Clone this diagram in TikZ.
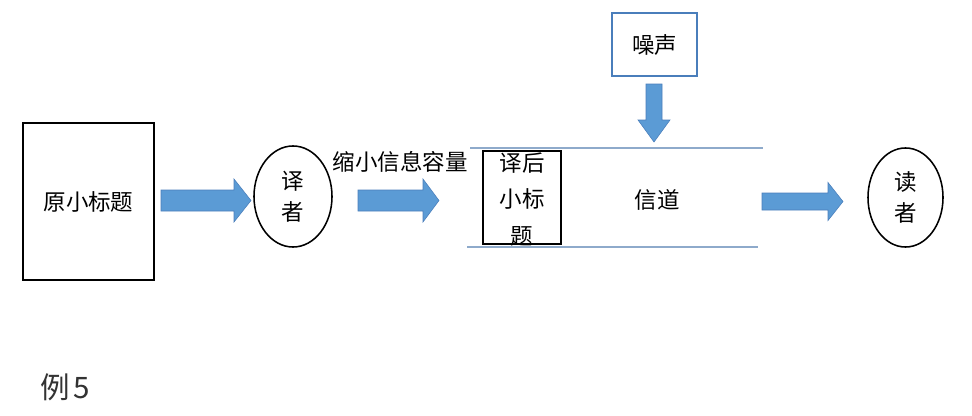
\documentclass[tikz,border=0pt]{standalone}
\usepackage{fontspec}
\setmainfont{Noto Sans CJK SC}
\usetikzlibrary{shapes.geometric}
\definecolor{arrowblue}{HTML}{5B9BD5}
\definecolor{arrowedge}{HTML}{4A7EBB}
\definecolor{channelline}{HTML}{8EAACB}

\begin{document}
\begin{tikzpicture}[x=0.025cm,y=-0.025cm,font=\fontsize{16}{22}\selectfont,
  person/.style={draw,line width=1.1pt,ellipse,inner sep=0pt,align=center}]
  \useasboundingbox (0,0) rectangle (972,415);
  % source and translator
  \node[draw,line width=1.7pt,minimum width=3.275cm,minimum height=3.925cm] (orig) at (88.5,201.5) {原小标题};
  \node[person,minimum width=1.95cm,minimum height=2.525cm] (translator) at (293,196.5) {译\\者};
  \node (shrink) at (400,162) {缩小信息容量};
  % channel
  \draw[channelline,line width=0.8pt] (470,148) -- (763,148);
  \draw[channelline,line width=0.8pt] (467,247) -- (758,247);
  \node[draw,line width=1pt,minimum width=1.95cm,minimum height=2.325cm] (sub) at (522,197.5) {};
  \node[align=center,font=\fontsize{16}{26}\selectfont] (subtext) at ([yshift=-0.05cm]sub) {译后\\小标\\题};
  \node (channel) at (657,200) {信道};
  \node[draw=arrowedge,line width=1pt,minimum width=2.125cm,minimum height=1.575cm] (noise) at (654.5,44.5) {噪声};
  % reader
  \node[person,minimum width=1.875cm,minimum height=2.475cm] (reader) at (905.5,197.5) {读\\者};
  % block arrows
  \foreach \xs/\xh/\xe/\yc/\sh/\hh in {161/234/251/200.5/10.5/21.5,358/423/439/200.5/10.5/21.5,762/828/843/201.5/8.5/19}{
    \filldraw[fill=arrowblue,draw=arrowedge] (\xs,\yc-\sh) -- (\xh,\yc-\sh) -- (\xh,\yc-\hh) -- (\xe,\yc)
      -- (\xh,\yc+\hh) -- (\xh,\yc+\sh) -- (\xs,\yc+\sh) -- cycle;
  }
  \filldraw[fill=arrowblue,draw=arrowedge] (646,84) -- (662,84) -- (662,120) -- (670,120) -- (654,142)
    -- (638,120) -- (646,120) -- cycle;
  \node[anchor=west,text=black!80,font=\fontsize{21}{24}\selectfont] (example) at (36,387) {例\hspace{2pt}5};
\end{tikzpicture}
\end{document}
